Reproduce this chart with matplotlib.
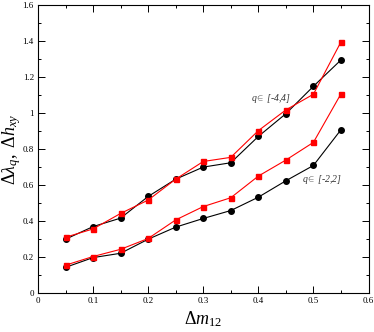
import matplotlib
matplotlib.use('Agg')
import matplotlib.pyplot as plt

plt.rcParams['font.family'] = 'Liberation Serif'
plt.rcParams['mathtext.fontset'] = 'custom'
plt.rcParams['mathtext.rm'] = 'Liberation Serif'
plt.rcParams['mathtext.it'] = 'Liberation Serif:italic'

dm = [0.05, 0.1, 0.15, 0.2, 0.25, 0.3, 0.35, 0.4, 0.45, 0.5, 0.55]

# q in [-4,4]
black_44 = [0.30, 0.37, 0.417, 0.537, 0.633, 0.70, 0.724, 0.87, 0.996, 1.148, 1.294]
red_44 = [0.311, 0.357, 0.443, 0.517, 0.633, 0.731, 0.754, 0.902, 1.017, 1.104, 1.394]
# q in [-2,2]
black_22 = [0.144, 0.198, 0.222, 0.30, 0.367, 0.415, 0.459, 0.533, 0.624, 0.709, 0.907]
red_22 = [0.156, 0.204, 0.244, 0.304, 0.407, 0.481, 0.530, 0.650, 0.739, 0.837, 1.106]

xticks = [0, 0.1, 0.2, 0.3, 0.4, 0.5, 0.6]
xlabels = ['0', '0.1', '0.2', '0.3', '0.4', '0.5', '0.6']
yticks = [0, 0.2, 0.4, 0.6, 0.8, 1.0, 1.2, 1.4, 1.6]
ylabels = ['0', '0.2', '0.4', '0.6', '0.8', '1', '1.2', '1.4', '1.6']

fig = plt.figure(figsize=(3.74, 3.32), dpi=100)
ax = fig.add_axes([38/374, 1 - 293.3/332, 330.5/374, 288.5/332])

ax.plot(dm, black_44, '-o', color='black', lw=0.8, ms=4)
ax.plot(dm, red_44, '-s', color='red', lw=0.8, ms=3.6)
ax.plot(dm, black_22, '-o', color='black', lw=0.8, ms=4)
ax.plot(dm, red_22, '-s', color='red', lw=0.8, ms=3.6)

ax.text(0.386, 1.065, r'$q\!\in$ [-4,4]', fontsize=7, style='italic', color='#333333')
ax.text(0.480, 0.615, r'$q\!\in$ [-2,2]', fontsize=7, style='italic', color='#333333')

ax.set_xlim(0, 0.6)
ax.set_ylim(0, 1.6)
ax.set_xticks(xticks)
ax.set_xticklabels(xlabels)
ax.set_xticks([0.05, 0.15, 0.25, 0.35, 0.45, 0.55], minor=True)
ax.set_yticks(yticks)
ax.set_yticklabels(ylabels)
ax.set_yticks([0.1, 0.3, 0.5, 0.7, 0.9, 1.1, 1.3, 1.5], minor=True)
ax.tick_params(which='both', direction='in', top=True, right=True, labelsize=6.5, width=0.7, pad=3)
ax.tick_params(which='major', length=5)
ax.tick_params(which='minor', length=2.5)
for s in ax.spines.values():
    s.set_linewidth(0.8)

ax.set_xlabel(r'$\Delta m_{\mathit{12}}$', fontsize=13)
ax.xaxis.set_label_coords(0.5, -0.055)
ax.set_ylabel(r'$\Delta\lambda_q,\ \Delta h_{xy}$', fontsize=13)
ax.yaxis.set_label_coords(-0.046, 0.5)

fig.savefig('out.png', dpi=100)
